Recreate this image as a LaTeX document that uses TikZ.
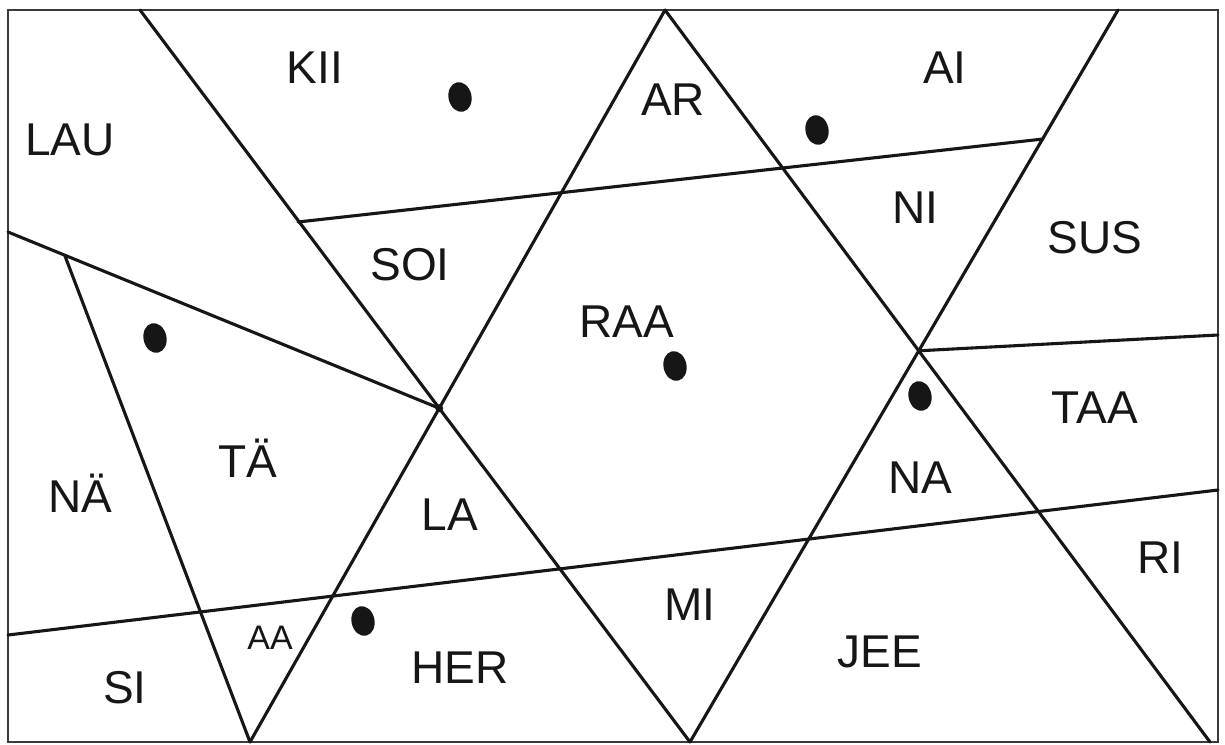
\documentclass[tikz,border=0pt]{standalone}
\usepackage{fontspec}
\usepackage{tikz}
\usetikzlibrary{calc, shapes.geometric}
\setmainfont{Liberation Sans}
\definecolor{mapInk}{HTML}{161616}
\definecolor{mapEdge}{HTML}{3A3A3A}
\tikzset{
  frame/.style={draw=mapEdge, line width=2.8pt},
  divide/.style={draw=mapInk, line width=3.1pt, line cap=round},
  spot/.style={fill=mapInk, ellipse, inner sep=0pt, minimum width=23pt, minimum height=30pt, rotate=12},
  region/.style={font=\fontsize{46}{50}\selectfont, text=mapInk, inner sep=0pt},
  smallregion/.style={region, font=\fontsize{34}{38}\selectfont}
}
\begin{document}
\begin{tikzpicture}[x=1pt, y=-1pt]
  \useasboundingbox (0,0) rectangle (1225,744);
  \fill[white] (0,0) rectangle (1225,744);
  % corners and crossings
  \coordinate (t1) at (140,10);
  \coordinate (t2) at (665,10);
  \coordinate (t3) at (1118,10);
  \coordinate (b1) at (250,742);
  \coordinate (b2) at (690,742);
  \coordinate (b3) at (1210,742);
  \coordinate (x1) at (intersection of t1--b2 and t2--b1);
  \coordinate (x2) at (intersection of t2--b3 and t3--b2);
  \coordinate (k1) at (298,222);
  \coordinate (k2) at (1043,139);
  \coordinate (w1) at (8,232);
  \coordinate (w2) at (65,256);
  \coordinate (e1) at (1218,335);
  \coordinate (s1) at (8,635);
  \coordinate (s2) at (1218,490);
  \draw[frame] (8,10) rectangle (1218,742);
  \draw[divide] (t1) -- (b2);
  \draw[divide] (t2) -- (b1);
  \draw[divide] (t2) -- (b3);
  \draw[divide] (t3) -- (b2);
  \draw[divide] (k1) -- (k2);
  \draw[divide] (w1) -- (x1);
  \draw[divide] (w2) -- (b1);
  \draw[divide] (x2) -- (e1);
  \draw[divide] (s1) -- (s2);
  \fill[mapInk] (x1) circle (4pt);
  % regions
  \node[region] (kii) at (315,68) {KII};
  \node[region] (lau) at (70,140) {LAU};
  \node[region] (ar) at (673,100) {AR};
  \node[region] (ai) at (945,68) {AI};
  \node[region] (ni) at (915,208) {NI};
  \node[region] (sus) at (1095,238) {SUS};
  \node[region] (soi) at (410,265) {SOI};
  \node[region] (raa) at (627,322) {RAA};
  \node[region] (taa) at (1095,408) {TAA};
  \node[region] (ta) at (248,458) {TÄ};
  \node[region] (na2) at (80,493) {NÄ};
  \node[region] (na) at (920,478) {NA};
  \node[region] (la) at (450,515) {LA};
  \node[region] (ri) at (1160,558) {RI};
  \node[region] (mi) at (690,605) {MI};
  \node[region] (si) at (125,688) {SI};
  \node[smallregion] (aa) at (270,638) {AA};
  \node[region] (her) at (460,668) {HER};
  \node[region] (jee) at (880,652) {JEE};
  % dots
  \node[spot] (d1) at (460,97) {};
  \node[spot] (d2) at (817,130) {};
  \node[spot] (d3) at (155,338) {};
  \node[spot] (d4) at (675,366) {};
  \node[spot] (d5) at (920,396) {};
  \node[spot] (d6) at (363,621) {};
\end{tikzpicture}
\end{document}
